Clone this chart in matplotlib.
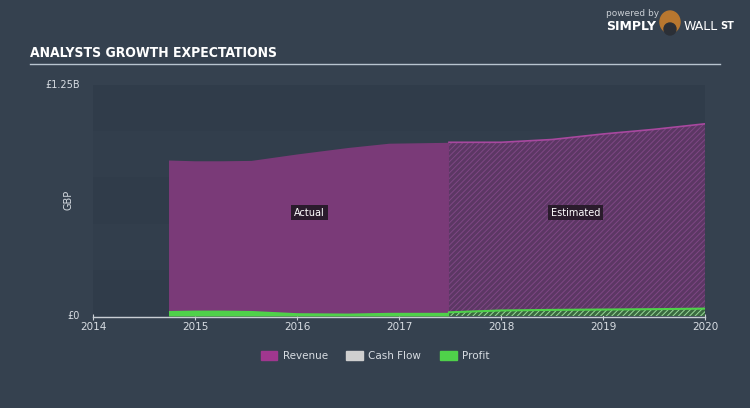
import matplotlib
matplotlib.use("Agg")
import matplotlib.pyplot as plt
import numpy as np

# data (GBP billions)
years = [2014.74, 2015.0, 2015.25, 2015.55, 2016.0, 2016.5, 2016.9, 2017.49]
revenue = [0.844, 0.840, 0.840, 0.842, 0.877, 0.912, 0.935, 0.940]
profit = [0.030, 0.032, 0.032, 0.030, 0.018, 0.016, 0.020, 0.020]

est_years = [2017.49, 2018.0, 2018.5, 2019.0, 2019.5, 2020.0]
est_revenue = [0.940, 0.940, 0.955, 0.985, 1.010, 1.040]
est_profit = [0.020, 0.030, 0.033, 0.035, 0.037, 0.040]

xticks = [2014, 2015, 2016, 2017, 2018, 2019, 2020]

BG = '#35414f'
REV = '#7a3a78'
REV_EST = '#5c3764'
GREEN = '#4fd14a'
TXT = '#d8dde3'

plt.rcParams['hatch.linewidth'] = 0.7

fig = plt.figure(figsize=(7.5, 4.08), dpi=100, facecolor=BG)
ax = fig.add_axes([93/750, 1 - 316/408, 612/750, 231/408])
ax.set_facecolor('#313d4b')

# subtle bands
for i in range(5):
    c = '#303c4a' if i % 2 == 0 else '#323e4c'
    ax.axhspan(i * 0.25, (i + 1) * 0.25, color=c, lw=0, zorder=0)

ax.fill_between(years, 0, revenue, color=REV, lw=0, zorder=2)
ax.fill_between(years, 0, profit, color=GREEN, lw=0, zorder=3)

ax.fill_between(est_years, 0, est_revenue, facecolor=REV_EST, edgecolor='#7e4784',
                hatch='//////', lw=0, zorder=2)
ax.plot(est_years, est_revenue, color='#a8489f', lw=1.2, zorder=4)
ax.fill_between(est_years, 0, est_profit, facecolor='#3a6a40', edgecolor='#9ad69a',
                hatch='//////', lw=0, zorder=3)
ax.plot(est_years, est_profit, color=GREEN, lw=1.5, zorder=4)

ax.set_xlim(2014, 2020)
ax.set_ylim(0, 1.25)
ax.set_xticks(xticks)
ax.set_xticklabels([str(x) for x in xticks])
ax.set_yticks([])
for s in ['top', 'right', 'left']:
    ax.spines[s].set_visible(False)
ax.spines['bottom'].set_color('#c9ced4')
ax.spines['bottom'].set_linewidth(1)
ax.spines['bottom'].set_position(('outward', 1))
ax.tick_params(axis='x', colors='#c9ced4', labelcolor=TXT, labelsize=7.5,
               length=5, direction='inout', pad=1)

ax.text(2014.0 - 0.13, 1.25, '£1.25B', color=TXT, fontsize=7, ha='right', va='center')
ax.text(2014.0 - 0.13, 0.0, '£0', color=TXT, fontsize=7, ha='right', va='center')
fig.text(68/750, 1 - 200/408, 'GBP', rotation=90, color=TXT, fontsize=7, ha='center', va='center')

box = dict(boxstyle='square,pad=0.3', fc='#2a1b2c', ec='none')
ax.text(2016.12, 0.56, 'Actual', color='white', fontsize=7, ha='center', va='center', bbox=box, zorder=6)
ax.text(2018.73, 0.56, 'Estimated', color='white', fontsize=7, ha='center', va='center', bbox=box, zorder=6)

# title and rule
fig.text(30/750, 1 - 53/408, 'ANALYSTS GROWTH EXPECTATIONS', color='white', fontsize=10,
         fontweight='bold', family=['Liberation Sans Narrow', 'DejaVu Sans'], stretch='condensed',
         ha='left', va='center')
fig.add_artist(plt.Line2D([30/750, 720/750], [1 - 64/408, 1 - 64/408], color='#b8c4cf', lw=1))

# logo text
fig.text(606/750, 1 - 14/408, 'powered by', color='#c9ced4', fontsize=6.5, ha='left', va='center')
fig.text(606/750, 1 - 27/408, 'SIMPLY', color='white', fontsize=9, fontweight='bold', ha='left', va='center')
fig.text(684/750, 1 - 27/408, 'WALL', color='white', fontsize=9, ha='left', va='center')
fig.text(720/750, 1 - 26/408, 'ST', color='white', fontsize=7, fontweight='bold', ha='left', va='center')
fig.add_artist(matplotlib.patches.Ellipse((670/750, 1 - 22/408), 20/750, 22/408,
                                          transform=fig.transFigure, color='#b8772f'))
fig.add_artist(matplotlib.patches.Ellipse((670/750, 1 - 29/408), 12/750, 12/408,
                                          transform=fig.transFigure, color='#2b2f36'))

# legend
handles = [matplotlib.patches.Patch(color='#a0378f', label='Revenue'),
           matplotlib.patches.Patch(color='#cfcfcf', label='Cash Flow'),
           matplotlib.patches.Patch(color=GREEN, label='Profit')]
leg = fig.legend(handles=handles, loc='center', bbox_to_anchor=(375/750, 1 - 356/408), ncol=3,
                 frameon=False, fontsize=7.5, handlelength=1.6, handleheight=1.0,
                 columnspacing=1.8, handletextpad=0.5)
for t in leg.get_texts():
    t.set_color(TXT)

fig.savefig('out.png', dpi=100, facecolor=BG)
